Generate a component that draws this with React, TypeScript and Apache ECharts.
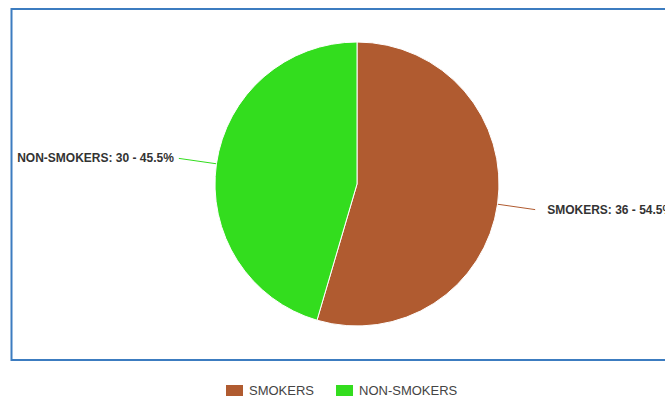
import React, { useEffect, useRef } from "react";
import * as echarts from "echarts";

const categories = ["SMOKERS", "NON-SMOKERS"];
const values = [36, 30];
const colors = ["#b05b30", "#33dd1e"];
const labelGaps = [12, 5];

export default function App() {
  const ref = useRef<HTMLDivElement>(null);
  useEffect(() => {
    if (!ref.current) return;
    const chart = echarts.init(ref.current, null, { renderer: "svg" });
    const total = values.reduce((a, b) => a + b, 0);
    chart.setOption({
      animation: false,
      backgroundColor: "#ffffff",
      color: colors,
      graphic: [
        {
          type: "rect",
          shape: { x: 11.5, y: 9, width: 700, height: 351 },
          style: { fill: "none", stroke: "#3c7cc0", lineWidth: 2 },
          silent: true,
        },
      ],
      legend: {
        data: categories,
        left: 219,
        top: 378,
        itemWidth: 19,
        itemHeight: 13,
        itemGap: 20,
        icon: "rect",
        textStyle: { color: "#444", fontSize: 13, fontFamily: "Liberation Sans, Arial, sans-serif" },
      },
      series: [
        {
          type: "pie",
          center: [357, 184],
          radius: 142,
          startAngle: 90,
          clockwise: true,
          itemStyle: { borderColor: "#ffffff", borderWidth: 1 },
          data: categories.map((c, i) => ({
            name: c,
            value: values[i],
            label: { distanceToLabelLine: labelGaps[i] },
          })),
          label: {
            show: true,
            formatter: (p: any) => `${p.name}: ${p.value} - ${((p.value / total) * 100).toFixed(1)}%`,
            color: "#333",
            fontWeight: "bold",
            fontSize: 12,
            fontFamily: "Liberation Sans, Arial, sans-serif",
            width: 200,
            overflow: "none",
          },
          labelLine: { show: true, length: 38, length2: 0, smooth: false },
        },
      ],
    });
    return () => chart.dispose();
  }, []);
  return (
    <div
      ref={ref}
      style={{ position: "fixed", left: 0, top: 0, width: 665, height: 402 }}
    />
  );
}
